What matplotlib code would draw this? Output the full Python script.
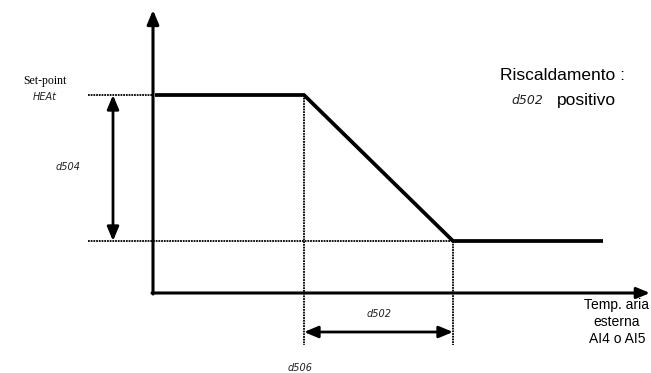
import matplotlib
matplotlib.use("Agg")
import matplotlib.pyplot as plt

# Diagram data (pixel-like coordinates of the schematic, y grows downwards)
curve_x = [155, 304, 453, 603]
curve_y = [95, 95, 241, 241]
setpoint_level = 95
min_level = 241
axis_origin = (153, 293)
axis_x_end = 650
axis_y_top = 10
d504_arrow_x = 113
d502_arrow_y = 332
guide_bottom = 345
guide_left = 88

W, H = 651, 373
fig = plt.figure(figsize=(W / 100, H / 100), dpi=100)
ax = fig.add_axes([0, 0, 1, 1])
ax.set_xlim(0, W)
ax.set_ylim(H, 0)
ax.axis("off")

seg = dict(family="DejaVu Sans", style="italic", fontsize=7, color="#222222")

# dotted guide lines
dot = dict(color="black", lw=1.3, linestyle=(0, (1, 0.5)))
ax.plot([guide_left, axis_origin[0]], [setpoint_level, setpoint_level], **dot)
ax.plot([guide_left, curve_x[2]], [min_level, min_level], **dot)
ax.plot([curve_x[1], curve_x[1]], [curve_y[1], guide_bottom], **dot)
ax.plot([curve_x[2], curve_x[2]], [curve_y[2], guide_bottom], **dot)

# axes with arrows
head = "head_length=0.6,head_width=0.25"
ax.annotate("", xy=(axis_origin[0], axis_y_top), xytext=(axis_origin[0], axis_origin[1] + 1),
            arrowprops=dict(arrowstyle="-|>," + head, color="black", lw=2.2,
                            mutation_scale=14, shrinkA=0, shrinkB=0))
ax.annotate("", xy=(axis_x_end, axis_origin[1]), xytext=(axis_origin[0] - 1, axis_origin[1]),
            arrowprops=dict(arrowstyle="-|>," + head, color="black", lw=2.2,
                            mutation_scale=13, shrinkA=0, shrinkB=0))

# curve
ax.plot(curve_x, curve_y, color="black", lw=2.7, solid_joinstyle="miter", solid_capstyle="butt")

# double arrows
ax.annotate("", xy=(d504_arrow_x, setpoint_level), xytext=(d504_arrow_x, min_level),
            arrowprops=dict(arrowstyle="<|-|>," + head, color="black", lw=2.0,
                            mutation_scale=14, shrinkA=0, shrinkB=0))
ax.annotate("", xy=(curve_x[1], d502_arrow_y), xytext=(curve_x[2], d502_arrow_y),
            arrowprops=dict(arrowstyle="<|-|>," + head, color="black", lw=2.0,
                            mutation_scale=14, shrinkA=0, shrinkB=0))

# texts
ax.text(45, 81, "Set-point", family="Liberation Serif", fontsize=8.5, ha="center", va="center")
ax.text(45, 97, "HEAt", ha="center", va="center", **seg)
ax.text(68, 167, "d504", ha="center", va="center", **seg)
ax.text(379, 314, "d502", ha="center", va="center", **seg)
ax.text(300, 368, "d506", ha="center", va="center", **seg)

ax.text(625, 76, "Riscaldamento :", family="Liberation Sans", fontsize=12.5, ha="right", va="center")
ax.text(543, 100, "d502", ha="right", va="center", family="DejaVu Sans", style="italic",
        fontsize=9, color="#222222")
ax.text(557, 100, "positivo", family="Liberation Sans", fontsize=12.5, ha="left", va="center")

ax.text(617, 322, "Temp. aria\nesterna\nAI4 o AI5", family="Liberation Sans", fontsize=10,
        ha="center", va="center", linespacing=1.3)

fig.savefig("out.png", dpi=100)
